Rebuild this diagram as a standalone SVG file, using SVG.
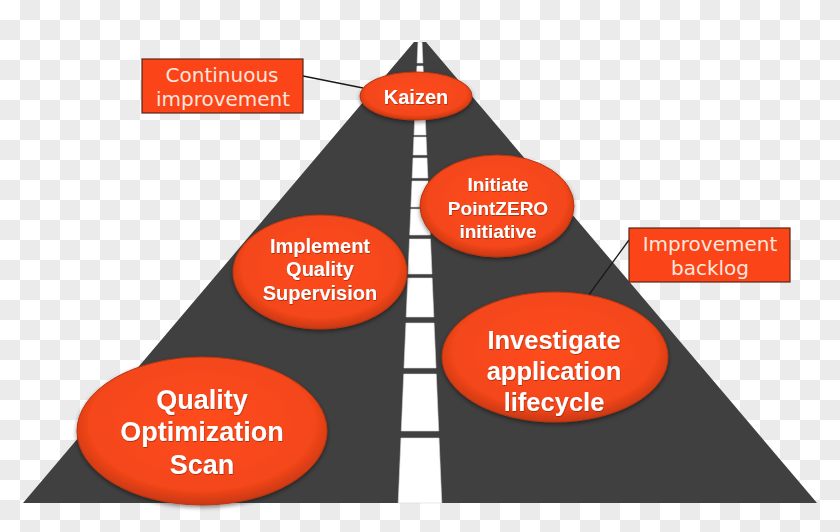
<svg xmlns="http://www.w3.org/2000/svg" width="840" height="532" viewBox="0 0 840 532">
  <defs>
    <pattern id="chk" width="40" height="40" patternUnits="userSpaceOnUse">
      <rect width="40" height="40" fill="#ffffff"/>
      <rect x="20" y="0" width="20" height="20" fill="#ebebeb"/>
      <rect x="0" y="20" width="20" height="20" fill="#ebebeb"/>
    </pattern>
    <radialGradient id="oval" cx="50%" cy="45%" r="55%">
      <stop offset="0" stop-color="#ff4c1e"/>
      <stop offset="0.82" stop-color="#f4461a"/>
      <stop offset="1" stop-color="#c83812"/>
    </radialGradient>
    <filter id="shadow" x="-10%" y="-10%" width="120%" height="130%">
      <feDropShadow dx="0" dy="2" stdDeviation="2" flood-color="#000" flood-opacity="0.45"/>
    </filter>
    <filter id="tshadow" x="-10%" y="-20%" width="120%" height="150%">
      <feDropShadow dx="0.5" dy="1" stdDeviation="0.6" flood-color="#7a1a00" flood-opacity="0.6"/>
    </filter>
  </defs>
  <style>
    .road { fill: #404040; }
    .dash { fill: #ffffff; stroke: #d8d8d8; stroke-width: 0.6; }
    .node ellipse { fill: url(#oval); stroke: #b8350f; stroke-width: 1; filter: url(#shadow); }
    .node text { font-family: "Liberation Sans", Arial, sans-serif; font-weight: bold; fill: #ffffff; text-anchor: middle; filter: url(#tshadow); }
    .callout rect { fill: #fb4418; stroke: #5a2616; stroke-width: 1.2; }
    .callout text { font-family: "DejaVu Sans", "Liberation Sans", sans-serif; font-size: 20px; fill: #fde6de; text-anchor: middle; }
    .conn line { stroke: #1a1a1a; stroke-width: 1.3; }
  </style>

  <rect width="840" height="532" fill="url(#chk)"/>

  <g id="road">
    <polygon class="road" points="23,503 414,42 426,42 817,503"/>
    <g id="centerline">
      <polygon class="dash" points="418,42 422,42 422.9,63 417.1,63"/>
      <polygon class="dash" points="416.97,66 423.03,66 426,135 414,135"/>
      <polygon class="dash" points="413.91,137 426.09,137 426.86,155 413.14,155"/>
      <polygon class="dash" points="413.01,158 426.99,158 427.85,178 412.15,178"/>
      <polygon class="dash" points="412.02,181 427.98,181 429.1,207 410.9,207"/>
      <polygon class="dash" points="410.82,209 429.18,209 430.3,235 409.7,235"/>
      <polygon class="dash" points="409.53,239 430.47,239 431.98,274 408.02,274"/>
      <polygon class="dash" points="407.85,278 432.15,278 433.83,317 406.17,317"/>
      <polygon class="dash" points="405.92,323 434.08,323 436.02,368 403.98,368"/>
      <polygon class="dash" points="403.72,374 436.28,374 438.73,431 401.27,431"/>
      <polygon class="dash" points="400.97,438 439.03,438 441.8,503 398.2,503"/>
    </g>
  </g>

  <g id="connectors" class="conn">
    <line x1="303" y1="76" x2="363" y2="88"/>
    <line x1="629" y1="240" x2="588" y2="296"/>
  </g>

  <g id="kaizen" class="node">
    <ellipse cx="416" cy="96" rx="56" ry="24"/>
    <text x="416" y="104" font-size="20">Kaizen</text>
  </g>

  <g id="pointzero" class="node">
    <ellipse cx="497" cy="206" rx="77" ry="51"/>
    <text x="498" font-size="19"><tspan x="498" y="191">Initiate</tspan><tspan x="498" y="215">PointZERO</tspan><tspan x="498" y="238">initiative</tspan></text>
  </g>

  <g id="supervision" class="node">
    <ellipse cx="320" cy="272" rx="87" ry="57"/>
    <text x="320" font-size="20"><tspan x="320" y="253">Implement</tspan><tspan x="320" y="276">Quality</tspan><tspan x="320" y="300">Supervision</tspan></text>
  </g>

  <g id="investigate" class="node">
    <ellipse cx="555" cy="357" rx="113" ry="65"/>
    <text x="554" font-size="25.5"><tspan x="554" y="349">Investigate</tspan><tspan x="554" y="380">application</tspan><tspan x="554" y="411">lifecycle</tspan></text>
  </g>

  <g id="scan" class="node">
    <ellipse cx="202" cy="431" rx="125" ry="74"/>
    <text x="202" font-size="27"><tspan x="202" y="409">Quality</tspan><tspan x="202" y="441">Optimization</tspan><tspan x="202" y="474">Scan</tspan></text>
  </g>

  <g id="continuous" class="callout">
    <rect x="142" y="59" width="161" height="54"/>
    <text><tspan x="222" y="82">Continuous</tspan><tspan x="223" y="106">improvement</tspan></text>
  </g>

  <g id="backlog" class="callout">
    <rect x="629" y="228" width="161" height="54"/>
    <text><tspan x="710" y="251">Improvement</tspan><tspan x="710" y="275">backlog</tspan></text>
  </g>
</svg>
